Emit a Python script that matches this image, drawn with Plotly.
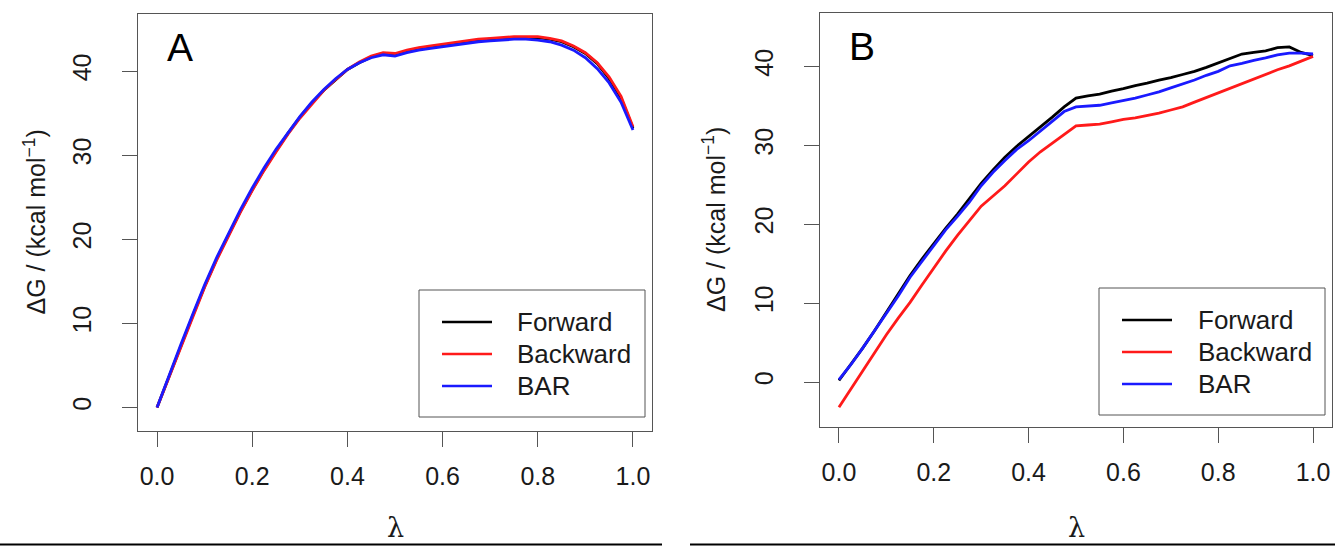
import plotly.graph_objects as go

# lambda windows shared by every series
lam = [0.0, 0.025, 0.05, 0.075, 0.1, 0.125, 0.15, 0.175, 0.2, 0.225, 0.25,
       0.275, 0.3, 0.325, 0.35, 0.375, 0.4, 0.425, 0.45, 0.475, 0.5, 0.525,
       0.55, 0.575, 0.6, 0.625, 0.65, 0.675, 0.7, 0.725, 0.75, 0.775, 0.8,
       0.825, 0.85, 0.875, 0.9, 0.925, 0.95, 0.975, 1.0]

# Panel A: free-energy profiles (kcal/mol)
a_forward = [0.0, 3.7, 7.4, 10.9, 14.4, 17.6, 20.5, 23.3, 25.9, 28.3, 30.5,
             32.6, 34.5, 36.2, 37.7, 39.0, 40.2, 41.0, 41.7, 42.1, 42.0, 42.4,
             42.7, 42.9, 43.1, 43.3, 43.5, 43.7, 43.8, 43.9, 44.0, 44.0, 44.0,
             43.8, 43.5, 42.9, 42.1, 40.9, 39.1, 36.8, 33.2]
a_backward = [0.0, 3.6, 7.3, 10.8, 14.3, 17.5, 20.4, 23.2, 25.8, 28.2, 30.4,
              32.5, 34.4, 36.1, 37.7, 39.0, 40.2, 41.1, 41.8, 42.2, 42.1, 42.5,
              42.8, 43.0, 43.2, 43.4, 43.6, 43.8, 43.9, 44.0, 44.1, 44.1, 44.1,
              43.9, 43.6, 43.0, 42.2, 41.0, 39.3, 37.0, 33.4]
a_bar = [0.0, 3.8, 7.5, 11.1, 14.6, 17.8, 20.7, 23.5, 26.1, 28.5, 30.7,
         32.7, 34.6, 36.3, 37.8, 39.1, 40.2, 41.0, 41.6, 41.95, 41.8, 42.2,
         42.5, 42.7, 42.9, 43.1, 43.3, 43.5, 43.6, 43.7, 43.8, 43.8, 43.7,
         43.5, 43.1, 42.5, 41.6, 40.3, 38.6, 36.3, 33.0]

# Panel B: free-energy profiles (kcal/mol)
b_forward = [0.2, 2.2, 4.3, 6.5, 8.8, 11.2, 13.5, 15.6, 17.6, 19.5, 21.3,
             23.2, 25.2, 26.9, 28.5, 29.9, 31.1, 32.4, 33.6, 34.9, 36.0, 36.3,
             36.5, 36.9, 37.2, 37.6, 37.9, 38.3, 38.6, 39.0, 39.4, 39.9, 40.5,
             41.1, 41.6, 41.8, 42.0, 42.4, 42.5, 41.8, 41.4]
b_backward = [-3.2, -0.9, 1.5, 3.8, 6.0, 8.1, 10.1, 12.3, 14.5, 16.6, 18.6,
              20.5, 22.3, 23.6, 24.9, 26.4, 27.9, 29.2, 30.3, 31.4, 32.5, 32.6,
              32.7, 33.0, 33.3, 33.5, 33.8, 34.1, 34.5, 34.9, 35.5, 36.1, 36.7,
              37.3, 37.9, 38.5, 39.0, 39.6, 40.1, 40.7, 41.3]
b_bar = [0.3, 2.2, 4.3, 6.5, 8.6, 10.9, 13.3, 15.3, 17.4, 19.3, 21.0,
         22.8, 24.9, 26.6, 28.1, 29.5, 30.6, 31.8, 33.1, 34.3, 34.9, 35.0,
         35.1, 35.4, 35.7, 36.0, 36.4, 36.8, 37.3, 37.8, 38.3, 38.9, 39.4,
         40.1, 40.4, 40.8, 41.1, 41.5, 41.7, 41.7, 41.6]

series_names = ["Forward", "Backward", "BAR"]
series_colors = ["#000000", "#ff1a1a", "#1a1aff"]
x_ticks = [0.0, 0.2, 0.4, 0.6, 0.8, 1.0]
y_ticks = [0, 10, 20, 30, 40]
panel_labels = ["A", "B"]
y_title = "ΔG / (kcal mol<sup>−1</sup>)"
x_title = "λ"

W, H = 1335, 546
FONT = "Liberation Sans, Arial, sans-serif"
INK = "#1a1a1a"
FRAME = "#555555"


def px(xp):
    return xp / W


def py(yp):
    return 1 - yp / H


fig = go.Figure()

panels = [
    dict(ys=[a_forward, a_backward, a_bar], xa="x", ya="y"),
    dict(ys=[b_forward, b_backward, b_bar], xa="x2", ya="y2"),
]
for p in panels:
    for name, col, ys in zip(series_names, series_colors, p["ys"]):
        fig.add_trace(go.Scatter(x=lam, y=ys, mode="lines", name=name,
                                 line=dict(color=col, width=2.8),
                                 xaxis=p["xa"], yaxis=p["ya"],
                                 showlegend=False, hoverinfo="skip"))

# plot boxes in pixel geometry: (left, right, top, bottom)
boxes = [(138, 652, 14, 431), (820, 1332, 13, 427)]
y_ranges = [[-2.8, 46.8], [-5.7, 46.8]]

common_x = dict(range=[-0.04, 1.04], tickvals=x_ticks, tickformat=".1f",
                ticks="outside", ticklen=15, tickcolor=FRAME, tickwidth=1,
                showline=True, mirror=True, linecolor=FRAME, linewidth=1,
                showgrid=False, zeroline=False, ticklabelstandoff=8,
                tickfont=dict(family=FONT, size=25, color=INK))
common_y = dict(tickvals=y_ticks, ticks="outside", ticklen=15,
                tickcolor=FRAME, tickwidth=1, tickangle=-90,
                showline=True, mirror=True, linecolor=FRAME, linewidth=1,
                showgrid=False, zeroline=False, ticklabelstandoff=21,
                tickfont=dict(family=FONT, size=25, color=INK))

layout_axes = {}
for i, ((l, r, t, b), yr) in enumerate(zip(boxes, y_ranges)):
    sfx = "" if i == 0 else str(i + 1)
    layout_axes["xaxis" + sfx] = dict(common_x, domain=[px(l), px(r)],
                                      anchor="y" + sfx)
    layout_axes["yaxis" + sfx] = dict(common_y, domain=[py(b), py(t)],
                                      range=yr, anchor="x" + sfx)

annotations = []
shapes = []
ytitle_x = [34, 714]
letter_pos = [(180, 47), (862, 46)]
for i, (l, r, t, b) in enumerate(boxes):
    cx = (l + r) / 2
    cy = (t + b) / 2
    annotations.append(dict(x=px(ytitle_x[i]), y=py(cy), xref="paper", yref="paper",
                            text=y_title, textangle=-90, showarrow=False,
                            font=dict(family=FONT, size=25, color=INK),
                            xanchor="center", yanchor="middle"))
    annotations.append(dict(x=px(cx), y=py(527), xref="paper", yref="paper",
                            text=x_title, showarrow=False,
                            font=dict(family="DejaVu Serif, serif", size=27, color=INK),
                            xanchor="center", yanchor="middle"))
    lx, ly = letter_pos[i]
    annotations.append(dict(x=px(lx), y=py(ly), xref="paper", yref="paper",
                            text=panel_labels[i], showarrow=False,
                            font=dict(family=FONT, size=39, color="#000000"),
                            xanchor="center", yanchor="middle"))

# legend boxes: (left, right, top, bottom, line_x0, line_x1, text_x, row_ys)
legends = [
    (419, 645, 290, 417, 442, 492, 515, [322, 354, 386]),
    (1099, 1325, 288, 415, 1122, 1172, 1196, [320, 352, 384]),
]
for (l, r, t, b, lx0, lx1, tx, rows) in legends:
    shapes.append(dict(type="rect", xref="paper", yref="paper",
                       x0=px(l), x1=px(r), y0=py(b), y1=py(t),
                       line=dict(color=FRAME, width=1), fillcolor="white", layer="above"))
    for name, col, ry in zip(series_names, series_colors, rows):
        shapes.append(dict(type="line", xref="paper", yref="paper",
                           x0=px(lx0), x1=px(lx1), y0=py(ry), y1=py(ry),
                           line=dict(color=col, width=2.6), layer="above"))
        annotations.append(dict(x=px(tx), y=py(ry), xref="paper", yref="paper",
                                text=name, showarrow=False, xanchor="left",
                                yanchor="middle",
                                font=dict(family=FONT, size=26, color=INK)))

# rules under each panel
for x0, x1 in [(0, 662), (690, 1335)]:
    shapes.append(dict(type="line", xref="paper", yref="paper",
                       x0=px(x0), x1=px(x1), y0=py(544.5), y1=py(544.5),
                       line=dict(color="#000000", width=2)))

fig.update_layout(width=W, height=H, margin=dict(l=0, r=0, t=0, b=0),
                  paper_bgcolor="white", plot_bgcolor="white",
                  showlegend=False, annotations=annotations, shapes=shapes,
                  **layout_axes)

fig.write_html("out.html")
